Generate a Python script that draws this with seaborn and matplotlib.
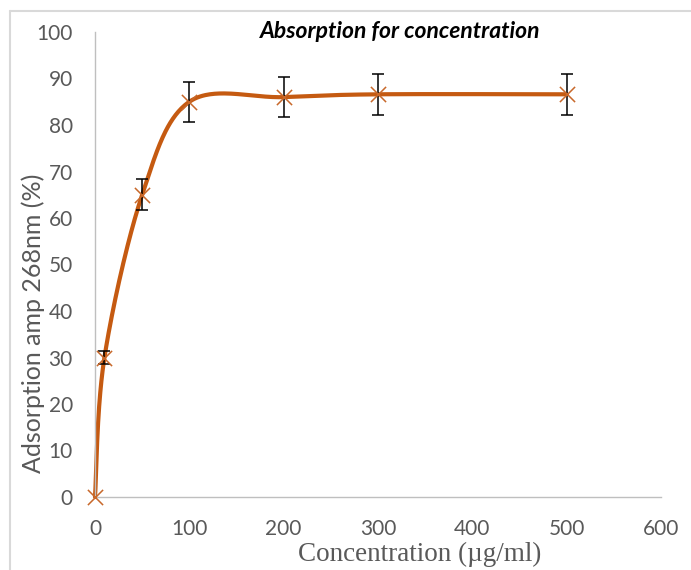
import numpy as np
import pandas as pd
import matplotlib
matplotlib.use("Agg")
import matplotlib.pyplot as plt
import seaborn as sns
from matplotlib.lines import Line2D

# ---- data ----
concentration = [0, 10, 50, 100, 200, 300, 500]
absorption = [0, 30, 65, 85, 86, 86.6, 86.6]
error = [0, 1.5, 3.3, 4.3, 4.35, 4.4, 4.4]
x_ticks = [0, 100, 200, 300, 400, 500, 600]
y_ticks = [0, 10, 20, 30, 40, 50, 60, 70, 80, 90, 100]
title = "Absorption for concentration"
x_label = "Concentration (µg/ml)"
y_label = "Adsorption amp 268nm (%)"

LINE = "#C55A11"
GRAY = "#595959"
AXIS = "#BFBFBF"


def smooth_curve(xs, ys, n=60):
    """Excel-like smoothed line: cubic Bezier through the points."""
    P = np.column_stack([xs, ys]).astype(float)
    m = len(P)
    out = []
    for i in range(m - 1):
        p0 = P[i]
        p3 = P[i + 1]
        prev = P[i - 1] if i > 0 else P[i]
        nxt = P[i + 2] if i + 2 < m else P[i + 1]
        c1 = p0 + (p3 - prev) / 6.0
        c2 = p3 - (nxt - p0) / 6.0
        t = np.linspace(0, 1, n)[:, None]
        seg = ((1 - t) ** 3) * p0 + 3 * ((1 - t) ** 2) * t * c1 + 3 * (1 - t) * t ** 2 * c2 + t ** 3 * p3
        out.append(seg if i == 0 else seg[1:])
    return np.vstack(out)


sns.set_style("white")
plt.rcParams["font.family"] = ["Lato", "DejaVu Sans"]

fig = plt.figure(figsize=(6.91, 5.70), dpi=100)
ax = fig.add_axes([95 / 691, 73 / 570, 566 / 691, 465 / 570])

curve = smooth_curve(concentration, absorption)
curve_df = pd.DataFrame({"x": curve[:, 0], "y": curve[:, 1]})
sns.lineplot(data=curve_df, x="x", y="y", ax=ax, color=LINE, linewidth=3.0,
             sort=False, estimator=None)
for ln in ax.lines:
    ln.set_clip_on(False)

ax.errorbar(concentration[1:], absorption[1:], yerr=error[1:], fmt="none",
            ecolor="black", elinewidth=1.1, capsize=4.5, capthick=1.1, zorder=3)

pts = pd.DataFrame({"x": concentration, "y": absorption})
sns.scatterplot(data=pts, x="x", y="y", ax=ax, marker="x", s=120,
                color="#C8682A", linewidth=1.1, zorder=4)
for coll in ax.collections:
    coll.set_clip_on(False)

ax.set_xlim(0, 600)
ax.set_ylim(0, 100)
ax.set_xticks(x_ticks)
ax.set_yticks(y_ticks)
ax.set_xticklabels([str(v) for v in x_ticks])
ax.set_yticklabels([str(v) for v in y_ticks])
ax.tick_params(axis="both", length=0, labelsize=15, labelcolor=GRAY)
ax.tick_params(axis="y", pad=16)
ax.tick_params(axis="x", pad=16)
ax.set_xlabel("")
ax.set_ylabel("")
for s in ["top", "right"]:
    ax.spines[s].set_visible(False)
for s in ["left", "bottom"]:
    ax.spines[s].set_color(AXIS)
    ax.spines[s].set_linewidth(1.0)
ax.grid(False)

fig.text(400 / 691, 1 - 32 / 570, title, ha="center", va="center",
         fontsize=16.5, fontweight="bold", fontstyle="italic", color="black")
fig.text(420 / 691, 1 - 554 / 570, x_label, ha="center", va="center",
         fontsize=19.5, family="Liberation Serif", color=GRAY)
fig.text(33 / 691, 1 - 323 / 570, y_label, ha="center", va="center",
         rotation=90, fontsize=18, color=GRAY)

# chart-area border (top and left edges visible in the reference)
fig.add_artist(Line2D([10 / 691, 1], [1 - 11 / 570, 1 - 11 / 570],
                      transform=fig.transFigure, color="#D9D9D9", linewidth=1.5))
fig.add_artist(Line2D([10 / 691, 10 / 691], [1 - 11 / 570, 0],
                      transform=fig.transFigure, color="#D9D9D9", linewidth=1.5))

fig.savefig("out.png", dpi=100)
